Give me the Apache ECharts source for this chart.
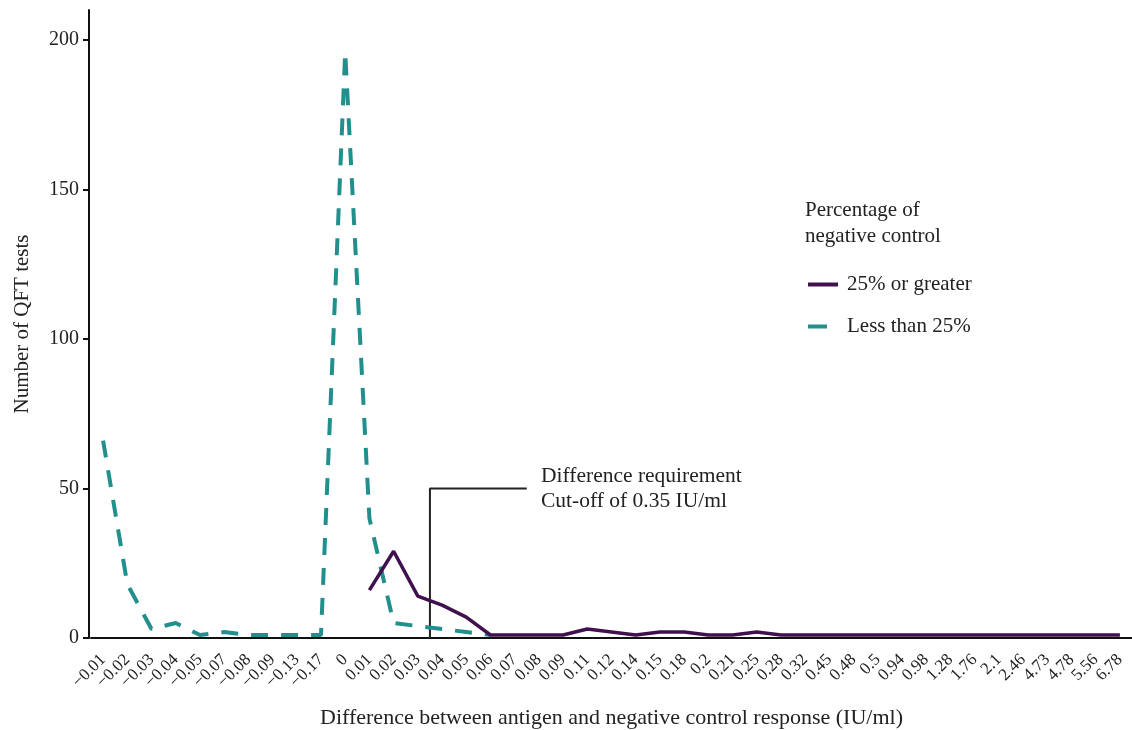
<!DOCTYPE html>
<html><head><meta charset="utf-8">
<script src="https://cdn.jsdelivr.net/npm/echarts@6/dist/echarts.min.js"></script>
<style>html,body{margin:0;padding:0;background:#fff}#c{width:1132px;height:730px}</style>
</head><body><div id="c"></div>
<script>
const categories = ['−0.01','−0.02','−0.03','−0.04','−0.05','−0.07','−0.08','−0.09','−0.13','−0.17','0','0.01','0.02','0.03','0.04','0.05','0.06','0.07','0.08','0.09','0.11','0.12','0.14','0.15','0.18','0.2','0.21','0.25','0.28','0.32','0.45','0.48','0.5','0.94','0.98','1.28','1.76','2.1','2.46','4.73','4.78','5.56','6.78'];
const lessThan25 = [66,18,3,5,1,2,1,1,1,1,196,40,5,4,3,2,1];
const greater25 = [null,null,null,null,null,null,null,null,null,null,null,16,29,14,11,7,1,1,1,1,3,2,1,2,2,1,1,2,1,1,1,1,1,1,1,1,1,1,1,1,1,1,1];
const yTicks = [0,50,100,150,200];
const cutoffLine = [[13.5,0],[13.5,50],[17.5,50]];
const seriesNames = ['25% or greater','Less than 25%'];
const FONT = 'Liberation Serif';
const TXT = '#222';

const chart = echarts.init(document.getElementById('c'), null, {renderer:'canvas'});
chart.setOption({
  animation:false,
  backgroundColor:'#fff',
  grid:{left:91,right:0,top:10,bottom:92,containLabel:false,outerBoundsMode:'none'},
  legend:{
    data:[
      {name:seriesNames[0],icon:'rect'},
      {name:seriesNames[1],icon:'path://M0,0H19V4H0ZM30,4'}
    ],
    orient:'vertical', left:803, top:269, itemWidth:30, itemHeight:4, itemGap:21,
    itemStyle:{borderWidth:0},
    textStyle:{fontFamily:FONT,fontSize:21,color:TXT,padding:[0,0,0,4]}
  },
  graphic:[
    {type:'text',left:805,top:197,style:{text:'Percentage of\nnegative control',font:'21px "Liberation Serif"',fill:TXT,lineHeight:26}},
    {type:'text',left:541,top:464,style:{text:'Difference requirement\nCut-off of 0.35 IU/ml',font:'21.5px "Liberation Serif"',fill:TXT,lineHeight:25}}
  ],
  xAxis:[{
    type:'category', data:categories, boundaryGap:true,
    name:'Difference between antigen and negative control response (IU/ml)', nameLocation:'middle', nameGap:69,
    nameTextStyle:{fontFamily:FONT,fontSize:22,color:TXT},
    axisLine:{lineStyle:{color:'#111',width:2}},
    axisTick:{alignWithLabel:true,length:6,lineStyle:{color:'#111',width:2}},
    axisLabel:{rotate:45,interval:0,margin:19,fontFamily:FONT,fontSize:17,color:TXT},
    splitLine:{show:false}
  },{
    type:'value', min:-0.5, max:42.5, show:false
  }],
  yAxis:{
    type:'value', min:0, max:210, offset:2,
    name:'Number of QFT tests', nameLocation:'middle', nameGap:56,
    nameTextStyle:{fontFamily:FONT,fontSize:21,color:TXT},
    axisLine:{show:true,onZero:false,lineStyle:{color:'#111',width:2}},
    axisTick:{show:true,length:6,customValues:yTicks,lineStyle:{color:'#111',width:2}},
    axisLabel:{customValues:yTicks,margin:10,fontFamily:FONT,fontSize:20,color:TXT},
    splitLine:{show:false}
  },
  series:[
    {name:seriesNames[1],type:'line',data:lessThan25,symbol:'none',connectNulls:false,
     lineStyle:{color:'#21908c',width:4,type:[17,13]},itemStyle:{color:'#21908c'},z:2},
    {name:seriesNames[0],type:'line',data:greater25,symbol:'none',
     lineStyle:{color:'#40104f',width:3.5},itemStyle:{color:'#40104f'},z:3},
    {name:'cutoff',type:'line',xAxisIndex:1,data:cutoffLine,symbol:'none',silent:true,
     lineStyle:{color:'#222',width:2},itemStyle:{color:'#222'},z:1}
  ]
});
</script></body></html>
